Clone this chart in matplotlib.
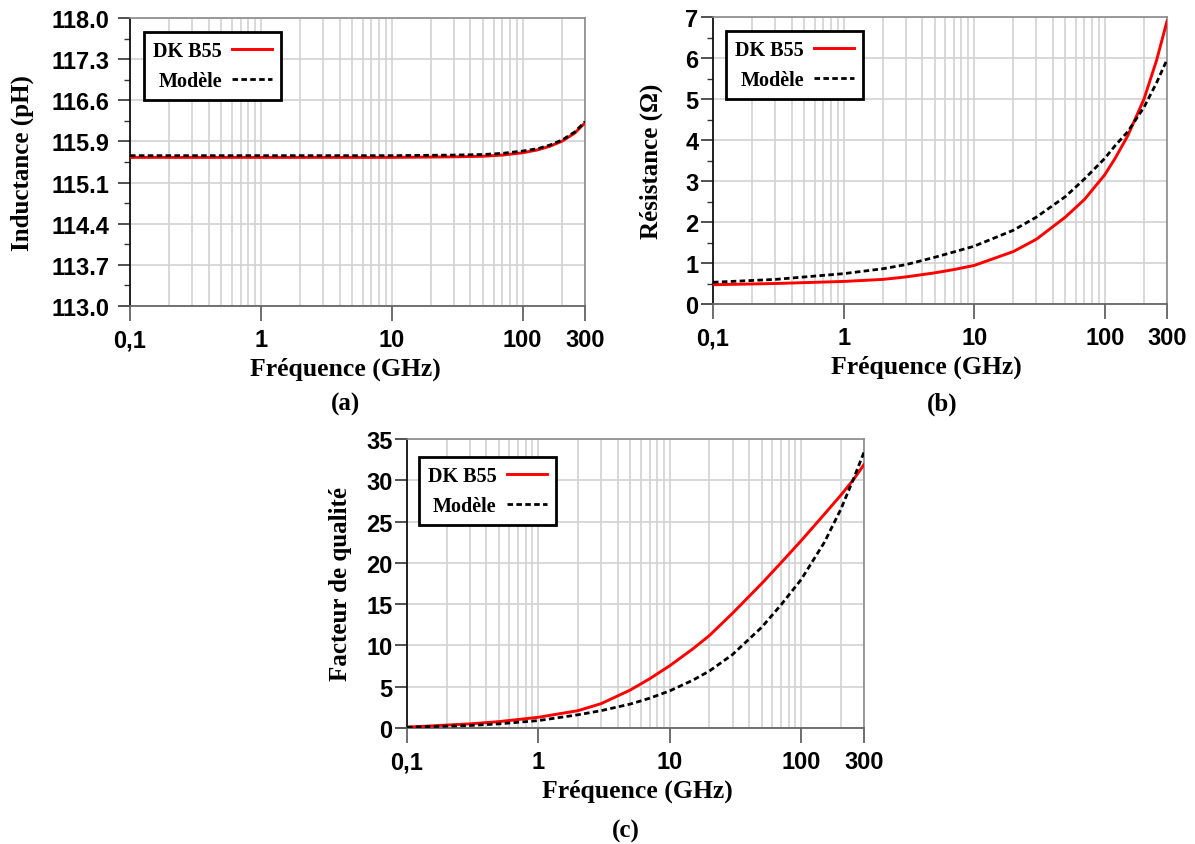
import matplotlib
matplotlib.use("Agg")
import matplotlib.pyplot as plt
from matplotlib.ticker import FixedLocator, NullFormatter, NullLocator

# ---------------- data ----------------
freq_L = [0.1, 0.3, 1, 3, 10, 30, 50, 70, 100, 130, 160, 200, 250, 300]
L_dk = [115.58, 115.58, 115.58, 115.58, 115.58, 115.59, 115.60, 115.62, 115.66, 115.71, 115.77, 115.86, 116.00, 116.18]
L_mod = [115.61, 115.61, 115.61, 115.61, 115.61, 115.62, 115.63, 115.65, 115.69, 115.73, 115.79, 115.88, 116.02, 116.20]

freq_R = [0.1, 0.3, 1, 2, 3, 5, 7, 10, 20, 30, 50, 70, 100, 120, 150, 200, 250, 300]
R_dk = [0.47, 0.50, 0.55, 0.60, 0.66, 0.76, 0.84, 0.94, 1.28, 1.58, 2.12, 2.55, 3.15, 3.55, 4.10, 5.00, 5.95, 6.90]
R_mod = [0.53, 0.60, 0.74, 0.86, 0.96, 1.14, 1.27, 1.41, 1.80, 2.12, 2.62, 3.05, 3.55, 3.86, 4.20, 4.80, 5.40, 5.96]

freq_Q = [0.1, 0.3, 0.5, 1, 2, 3, 5, 7, 10, 15, 20, 30, 50, 70, 100, 150, 200, 250, 300]
Q_dk = [0.1, 0.5, 0.77, 1.3, 2.1, 2.95, 4.6, 5.95, 7.55, 9.6, 11.2, 13.9, 17.5, 20.0, 22.7, 25.9, 28.2, 30.1, 31.9]
Q_mod = [0.1, 0.3, 0.5, 0.9, 1.6, 2.1, 2.9, 3.6, 4.5, 5.8, 6.9, 8.9, 12.2, 14.9, 18.0, 22.5, 26.5, 30.2, 33.4]

x_ticks = [0.1, 1, 10, 100, 300]
x_ticklabels = ["0,1", "1", "10", "100", "300"]

L_ticks = [113.0 + 5.0 / 7.0 * k for k in range(8)]
L_ticklabels = ["113.0", "113.7", "114.4", "115.1", "115.9", "116.6", "117.3", "118.0"]
R_ticks = [0, 1, 2, 3, 4, 5, 6, 7]
Q_ticks = [0, 5, 10, 15, 20, 25, 30, 35]

label_dk = "DK B55"
label_mod = "Modèle"
xlabel = "Fréquence (GHz)"

# ---------------- style ----------------
serif = ["Liberation Serif", "DejaVu Serif"]
sans = ["Liberation Sans", "DejaVu Sans"]
grid_c = "#d2d2d2"

fig = plt.figure(figsize=(11.95, 8.45), dpi=100)

def minor_x():
    vals = []
    for dec in [0.1, 1, 10]:
        for m in range(2, 10):
            vals.append(dec * m)
    vals += [200]
    return vals

def style_ax(ax, yticks, yticklabels, ylim, ylabel, yminor, ypad, ylabelpad, xlabel_x):
    ax.set_xscale("log")
    ax.set_xlim(0.1, 300)
    ax.set_ylim(*ylim)
    ax.xaxis.set_major_locator(FixedLocator(x_ticks))
    ax.set_xticklabels(x_ticklabels)
    ax.xaxis.set_minor_locator(FixedLocator(minor_x()))
    ax.xaxis.set_minor_formatter(NullFormatter())
    ax.yaxis.set_major_locator(FixedLocator(yticks))
    ax.set_yticklabels(yticklabels)
    if yminor is not None:
        ax.yaxis.set_minor_locator(FixedLocator(yminor))
    else:
        ax.yaxis.set_minor_locator(NullLocator())
    ax.grid(True, which="major", axis="both", color=grid_c, lw=1.2, zorder=0)
    ax.grid(True, which="minor", axis="x", color=grid_c, lw=1.2, zorder=0)
    ax.tick_params(axis="x", which="major", direction="out", length=11, width=1.2,
                   color="#555555", pad=5)
    ax.tick_params(axis="x", which="minor", length=0)
    ax.tick_params(axis="y", which="major", direction="out", length=8.5, width=1.2,
                   color="#333333", pad=ypad)
    ax.tick_params(axis="y", which="minor", direction="out", length=4.5, width=1.0,
                   color="#333333")
    for lab in ax.get_xticklabels() + ax.get_yticklabels():
        lab.set_fontfamily(sans)
        lab.set_fontweight("bold")
        lab.set_fontsize(17)
    ax.spines["left"].set_color("#111111")
    ax.spines["left"].set_linewidth(1.3)
    ax.spines["bottom"].set_color("#666666")
    ax.spines["bottom"].set_linewidth(1.3)
    ax.spines["top"].set_color("#8a8a8a")
    ax.spines["right"].set_color("#8a8a8a")
    ax.spines["top"].set_linewidth(1.2)
    ax.spines["right"].set_linewidth(1.2)
    ax.set_xlabel(xlabel, fontfamily=serif, fontweight="bold", fontsize=18.5, labelpad=4)
    ax.xaxis.label.set_x(xlabel_x)
    ax.set_ylabel(ylabel, fontfamily=serif, fontweight="bold", fontsize=18, labelpad=ylabelpad)

def plot_pair(ax, f, y1, y2, bbox):
    ax.plot(f, y1, color="#ff0000", lw=2.1, label=label_dk, zorder=3)
    ax.plot(f, y2, color="black", lw=2.0, ls=(0, (2, 1.2)), label=label_mod, zorder=4)
    leg = ax.legend(loc="upper left", bbox_to_anchor=bbox, markerfirst=False,
                    prop={"family": serif, "weight": "bold", "size": 14.5},
                    frameon=True, fancybox=False, edgecolor="black",
                    handlelength=2.0, handletextpad=0.5, borderpad=0.45,
                    labelspacing=0.5, borderaxespad=0)
    leg.get_frame().set_linewidth(2.0)
    leg.get_frame().set_alpha(1)

ax_a = fig.add_axes([130 / 1195, 1 - 307 / 845, 455 / 1195, 288 / 845])
plot_pair(ax_a, freq_L, L_dk, L_mod, (0.031, 0.953))
style_ax(ax_a, L_ticks, L_ticklabels, (113.0, 118.0), "Inductance (pH)",
         [113.0 + 5.0 / 14.0 * (2 * k + 1) for k in range(7)], 6.5, 12, 0.4725)

ax_b = fig.add_axes([713 / 1195, 1 - 305 / 845, 454 / 1195, 287 / 845])
plot_pair(ax_b, freq_R, R_dk, R_mod, (0.029, 0.951))
style_ax(ax_b, R_ticks, [str(t) for t in R_ticks], (0, 7), "Résistance (Ω)",
         [0.5 + k for k in range(7)], 2, 16, 0.469)

ax_c = fig.add_axes([407 / 1195, 1 - 729 / 845, 457 / 1195, 289 / 845])
plot_pair(ax_c, freq_Q, Q_dk, Q_mod, (0.026, 0.938))
style_ax(ax_c, Q_ticks, [str(t) for t in Q_ticks], (0, 35), "Facteur de qualité", None,
         2, 10, 0.505)

fig.text(346 / 1195, 1 - 404 / 845, "(a)", ha="center", va="center",
         fontfamily=serif, fontweight="bold", fontsize=18)
fig.text(942 / 1195, 1 - 404 / 845, "(b)", ha="center", va="center",
         fontfamily=serif, fontweight="bold", fontsize=18)
fig.text(626 / 1195, 1 - 831 / 845, "(c)", ha="center", va="center",
         fontfamily=serif, fontweight="bold", fontsize=18)

fig.savefig("out.png", dpi=100)
